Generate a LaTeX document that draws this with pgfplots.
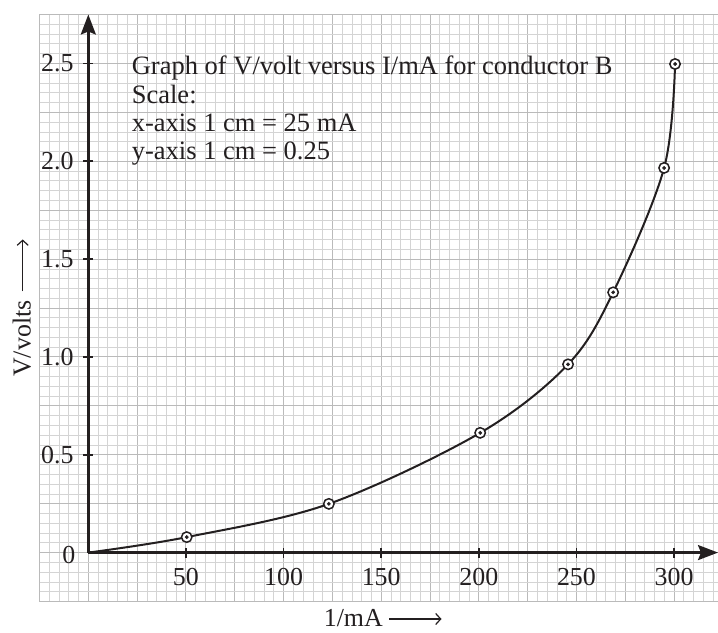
\documentclass[border=0pt]{standalone}
\usepackage{fontspec}
\setmainfont{Liberation Serif}
\usepackage{pgfplots}
\pgfplotsset{compat=1.18}
\usetikzlibrary{arrows.meta}
\definecolor{ink}{HTML}{231F20}
\begin{document}
\fontsize{26}{28.5}\selectfont
\begin{tikzpicture}
% graph paper
\begin{axis}[
  at={(0,0)}, anchor=south west,
  scale only axis, width=678.5bp, height=587bp,
  xmin=-25, xmax=322.5, ymin=-0.25, ymax=2.75,
  axis line style={draw=none},
  xtick={-25,0,...,325}, minor x tick num=4,
  ytick={-0.25,0,...,2.75}, minor y tick num=4,
  xticklabels={}, yticklabels={},
  major tick length=0pt, minor tick length=0pt,
  grid=both,
  major grid style={draw=black!27, line width=0.9bp},
  minor grid style={draw=black!17, line width=0.7bp},
]
\end{axis}
% data axis
\begin{axis}[
  at={(0,0)}, anchor=south west,
  scale only axis, width=678.5bp, height=587bp,
  xmin=-25, xmax=322.5, ymin=-0.25, ymax=2.75,
  clip=false,
  axis lines=middle,
  axis line style={draw=none},
  xtick={50,100,...,300},
  ytick={0.5,1.0,...,2.5},
  yticklabel style={/pgf/number format/fixed,/pgf/number format/fixed zerofill,/pgf/number format/precision=1},
  /pgf/number format/assume math mode=true,
  ticklabel style={font=\fontsize{26}{28}\selectfont, text=ink},
  tick align=center,
  major tick length=10bp,
  tick style={draw=ink, line width=1.6bp},
  xticklabel style={yshift=-2bp},
  yticklabel style={xshift=-1bp},
]
\draw[ink, line width=2.4bp, -{Stealth[length=20bp,width=15bp,inset=3bp]}] (axis cs:0,0) -- (axis cs:0,2.75);
\draw[ink, line width=2.4bp, -{Stealth[length=20bp,width=15bp,inset=3bp]}] (axis cs:0,0) -- (axis cs:322.5,0);
\node[anchor=east, text=ink, inner sep=0pt] at (axis cs:-6.5,-0.01) {0};

\addplot[ink, line width=2bp, smooth, tension=0.55, no marks] coordinates {
  (0,0) (50.4,0.079) (123.2,0.249) (200.7,0.612) (245.7,0.962) (268.8,1.330) (294.9,1.966) (300.5,2.497)
};
\addplot[only marks, mark=*, mark size=5.2bp, mark options={draw=ink, fill=white, line width=1.5bp}] coordinates {
  (50.4,0.079) (123.2,0.249) (200.7,0.612) (245.7,0.962) (268.8,1.330) (294.9,1.966) (300.5,2.497)
};
\addplot[only marks, mark=*, mark size=1.7bp, mark options={draw=ink, fill=ink}] coordinates {
  (50.4,0.079) (123.2,0.249) (200.7,0.612) (245.7,0.962) (268.8,1.330) (294.9,1.966) (300.5,2.497)
};

\begin{scope}[every node/.style={anchor=base west, text=ink, inner sep=0pt, font=\fontsize{26.6}{28.5}\selectfont}]
\node at (axis cs:22.2,2.445) {Graph of V/volt versus I/mA for conductor B};
\node at (axis cs:22.2,2.297) {Scale:};
\node at (axis cs:22.2,2.153) {x-axis 1 cm = 25 mA};
\node at (axis cs:22.2,2.010) {y-axis 1 cm = 0.25};
\end{scope}
\end{axis}
% axis titles with long arrows
\node[anchor=base east, text=ink, inner sep=0pt] at (343.5bp,-24.5bp) {1/mA};
\draw[ink, line width=1.2bp, -{Straight Barb[length=5bp,width=11bp]}] (349.5bp,-17.5bp) -- (402bp,-17.5bp);
\node[anchor=base west, rotate=90, text=ink, inner sep=0pt] at (-9bp,224.5bp) {V/volts};
\draw[ink, line width=1.2bp, -{Straight Barb[length=5bp,width=11bp]}] (-16.8bp,310bp) -- (-16.8bp,362bp);
\pgfresetboundingbox
\path[use as bounding box] (-39.5bp,-31.5bp) rectangle (678.5bp,601.5bp);
\end{tikzpicture}
\end{document}
